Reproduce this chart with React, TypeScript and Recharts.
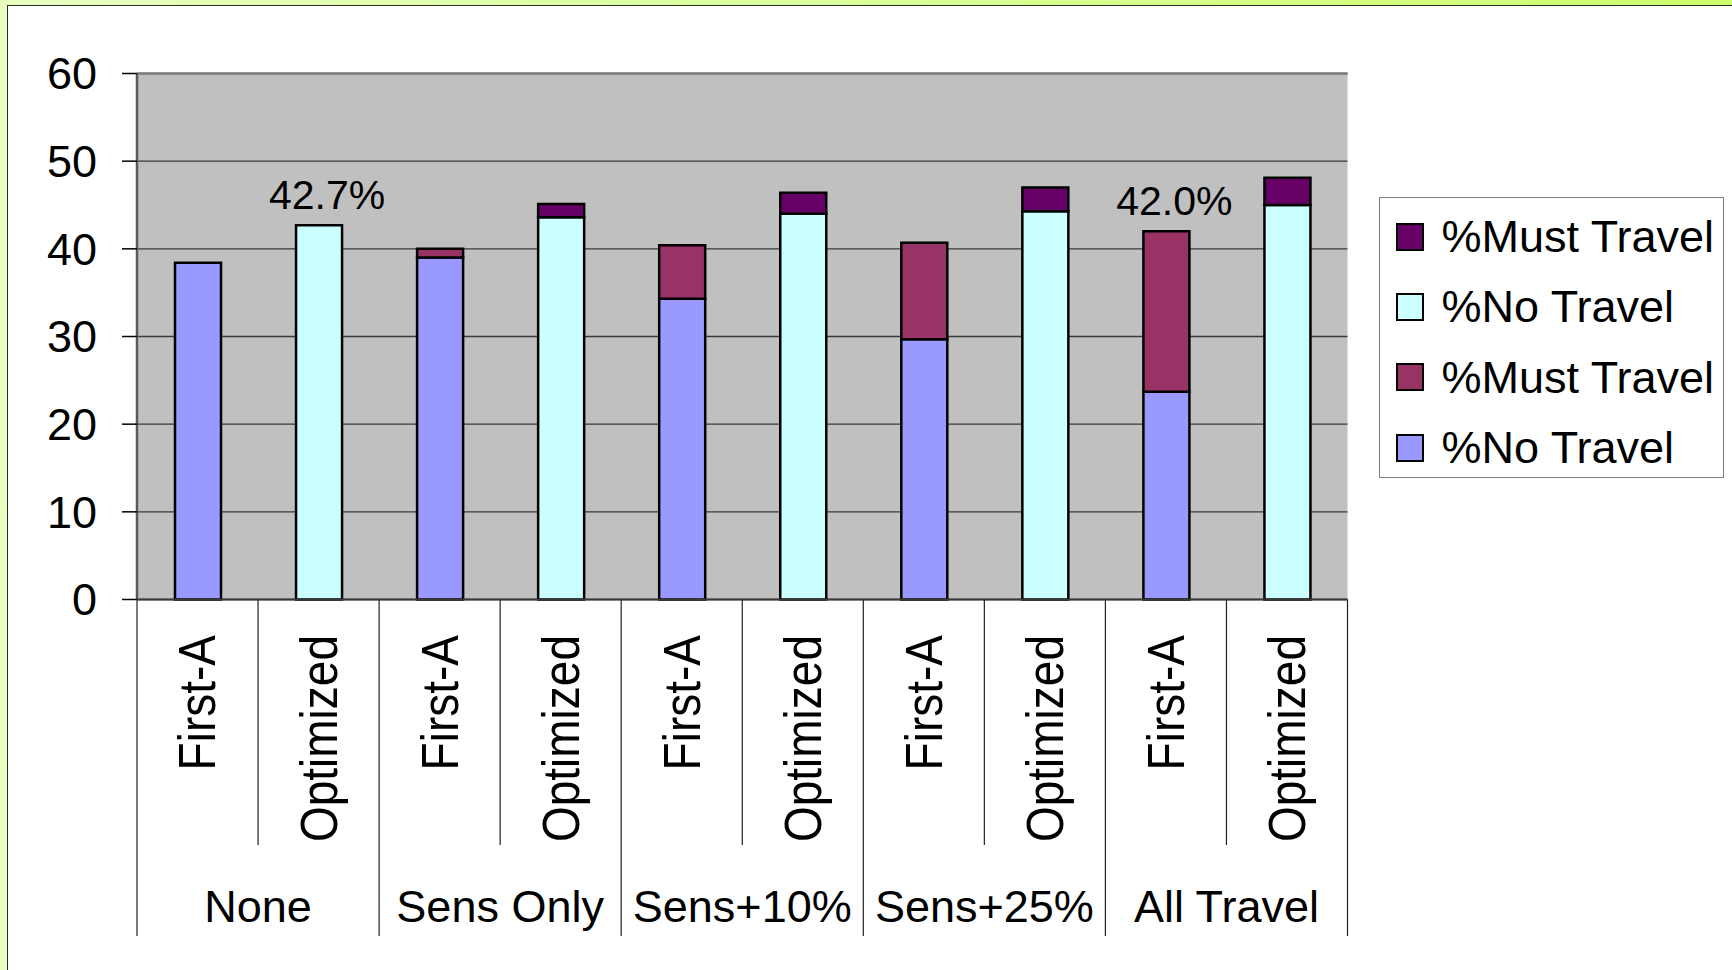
import React from 'react';
import {
  BarChart,
  Bar,
  XAxis,
  YAxis,
  CartesianGrid,
  ReferenceLine,
  Legend,
  LabelList,
} from 'recharts';

// Scenario groups and the two assignment methods shown inside each group
const groups = ['None', 'Sens Only', 'Sens+10%', 'Sens+25%', 'All Travel'];
const methods = ['First-A', 'Optimized'];

// Percent of staff per scenario
const firstANoTravel = [38.4, 39.0, 34.3, 29.7, 23.7];
const firstAMustTravel = [0, 1.0, 6.1, 11.0, 18.3];
const optimizedNoTravel = [42.7, 43.6, 44.0, 44.3, 45.0];
const optimizedMustTravel = [0, 1.5, 2.4, 2.7, 3.1];

// Columns whose total is printed above them
const annotatedColumns = ['None|Optimized', 'All Travel|First-A'];

const yTicks = [0, 10, 20, 30, 40, 50, 60];

const FONT = '"Liberation Sans", Arial, Helvetica, sans-serif';

type Row = {
  key: string;
  group: string;
  method: string;
  faNo?: number;
  faMust?: number;
  optNo?: number;
  optMust?: number;
  note?: string;
};

const rows: Row[] = [];
groups.forEach((group, g) => {
  const faKey = `${group}|${methods[0]}`;
  const faTotal = firstANoTravel[g] + firstAMustTravel[g];
  rows.push({
    key: faKey,
    group,
    method: methods[0],
    faNo: firstANoTravel[g],
    faMust: firstAMustTravel[g],
    note: annotatedColumns.includes(faKey) ? `${faTotal.toFixed(1)}%` : undefined,
  });
  const optKey = `${group}|${methods[1]}`;
  const optTotal = optimizedNoTravel[g] + optimizedMustTravel[g];
  rows.push({
    key: optKey,
    group,
    method: methods[1],
    optNo: optimizedNoTravel[g],
    optMust: optimizedMustTravel[g],
    note: annotatedColumns.includes(optKey) ? `${optTotal.toFixed(1)}%` : undefined,
  });
});

// Stack order, bottom to top
const series = [
  { key: 'faNo', name: '%No Travel', color: '#9999FF' },
  { key: 'faMust', name: '%Must Travel', color: '#993366' },
  { key: 'optNo', name: '%No Travel', color: '#CCFFFF' },
  { key: 'optMust', name: '%Must Travel', color: '#660066' },
];

const CHART_W = 1732;
const CHART_H = 970;
const MARGIN = { top: 73.5, right: 384.5, bottom: 30, left: 0 };
const Y_AXIS_W = 137;
const X_AXIS_H = 340.5;
const PLOT_W = CHART_W - MARGIN.left - MARGIN.right - Y_AXIS_W;

const SUB_DIVIDER = 245.5;
const GROUP_DIVIDER = 336.5;

function CategoryTick(props: any) {
  const { x, y, payload } = props;
  const i: number = payload?.index ?? props.index ?? 0;
  const row = rows[i];
  if (!row) return null;
  const half: number = payload?.offset ? payload.offset : PLOT_W / rows.length / 2;
  const firstInGroup = i % 2 === 0;
  return (
    <g>
      {i === 0 && (
        <line x1={x - half} x2={x - half} y1={y} y2={y + GROUP_DIVIDER} stroke="#222" strokeWidth={1.2} />
      )}
      <line
        x1={x + half}
        x2={x + half}
        y1={y}
        y2={y + (firstInGroup ? SUB_DIVIDER : GROUP_DIVIDER)}
        stroke="#222"
        strokeWidth={1.2}
      />
      <text
        transform={`translate(${x},${y + 35.5}) rotate(-90) scale(1,1.12)`}
        textAnchor="end"
        dominantBaseline="central"
        fontSize={46}
        fontFamily={FONT}
        fill="#000"
      >
        {row.method}
      </text>
      {firstInGroup && (
        <text
          x={x + half}
          y={y + 322.5}
          textAnchor="middle"
          fontSize={45}
          fontFamily={FONT}
          fill="#000"
        >
          {row.group}
        </text>
      )}
    </g>
  );
}

function TotalLabel(props: any) {
  const { x, y, width, value } = props;
  if (value === undefined || value === null || value === '') return null;
  return (
    <text
      x={Number(x) + Number(width) / 2 + 8}
      y={Number(y) - 16}
      textAnchor="middle"
      fontSize={41}
      fontFamily={FONT}
      fill="#000"
    >
      {value}
    </text>
  );
}

function LegendBox() {
  const items = [...series].reverse();
  return (
    <div
      style={{
        position: 'relative',
        width: 345,
        height: 281,
        boxSizing: 'border-box',
        border: '1.5px solid #808080',
        background: '#fff',
        fontFamily: FONT,
      }}
    >
      {items.map((s, i) => (
        <div
          key={s.key}
          style={{
            position: 'absolute',
            left: 16,
            top: 4 + i * 70.3,
            height: 70.3,
            display: 'flex',
            alignItems: 'center',
            whiteSpace: 'nowrap',
          }}
        >
          <span
            style={{
              display: 'inline-block',
              width: 28,
              height: 28,
              boxSizing: 'border-box',
              border: '2.5px solid #000',
              background: s.color,
              marginRight: 18,
            }}
          />
          <span style={{ fontSize: 45, lineHeight: 1, color: '#000' }}>{s.name}</span>
        </div>
      ))}
    </div>
  );
}

export default function App() {
  return (
    <div
      style={{
        position: 'absolute',
        left: 0,
        top: 0,
        width: CHART_W,
        height: CHART_H,
        overflow: 'hidden',
        background: 'linear-gradient(90deg, #E6FFC0 0%, #DAFF98 50%, #CCFF6E 100%)',
        fontFamily: FONT,
      }}
    >
      <div
        style={{
          position: 'absolute',
          left: 7,
          top: 5,
          width: CHART_W + 20,
          height: CHART_H + 20,
          background: '#fff',
          borderTop: '1.8px solid #2a2a2a',
          borderLeft: '1.8px solid #2a2a2a',
        }}
      />
      <div style={{ position: 'absolute', left: 0, top: 0 }}>
        <BarChart width={CHART_W} height={CHART_H} data={rows} margin={MARGIN} barSize={46}>
          <CartesianGrid vertical={false} fill="#C0C0C0" stroke="#3a3a3a" strokeWidth={1.3} />
          <XAxis
            dataKey="key"
            interval={0}
            height={X_AXIS_H}
            tickSize={0}
            tickMargin={0}
            tickLine={false}
            axisLine={{ stroke: '#3a3a3a', strokeWidth: 2 }}
            tick={(p: any) => <CategoryTick {...p} />}
          />
          <YAxis
            domain={[0, 60]}
            ticks={yTicks}
            interval={0}
            width={Y_AXIS_W}
            tickSize={15}
            tickMargin={25}
            axisLine={{ stroke: '#5a5a5a', strokeWidth: 2.5 }}
            tickLine={{ stroke: '#000', strokeWidth: 1.5 }}
            tick={{ fontSize: 45, fill: '#000', fontFamily: FONT }}
          />
          <YAxis
            yAxisId="frame"
            orientation="right"
            domain={[0, 60]}
            width={0}
            tick={false}
            tickLine={false}
            axisLine={{ stroke: '#808080', strokeWidth: 2 }}
          />
          <ReferenceLine y={60} stroke="#808080" strokeWidth={2.5} />
          {series.map((s) => (
            <Bar
              key={s.key}
              dataKey={s.key}
              name={s.name}
              stackId="total"
              fill={s.color}
              stroke="#000"
              strokeWidth={2.5}
              isAnimationActive={false}
            >
              {(s.key === 'optNo' || s.key === 'faMust') && (
                <LabelList dataKey="note" content={(p: any) => <TotalLabel {...p} />} />
              )}
            </Bar>
          ))}
          <Legend
            layout="vertical"
            align="center"
            verticalAlign="middle"
            wrapperStyle={{ left: 1378.5, top: 196.5, width: 345, height: 281 }}
            content={() => <LegendBox />}
          />
        </BarChart>
      </div>
    </div>
  );
}
